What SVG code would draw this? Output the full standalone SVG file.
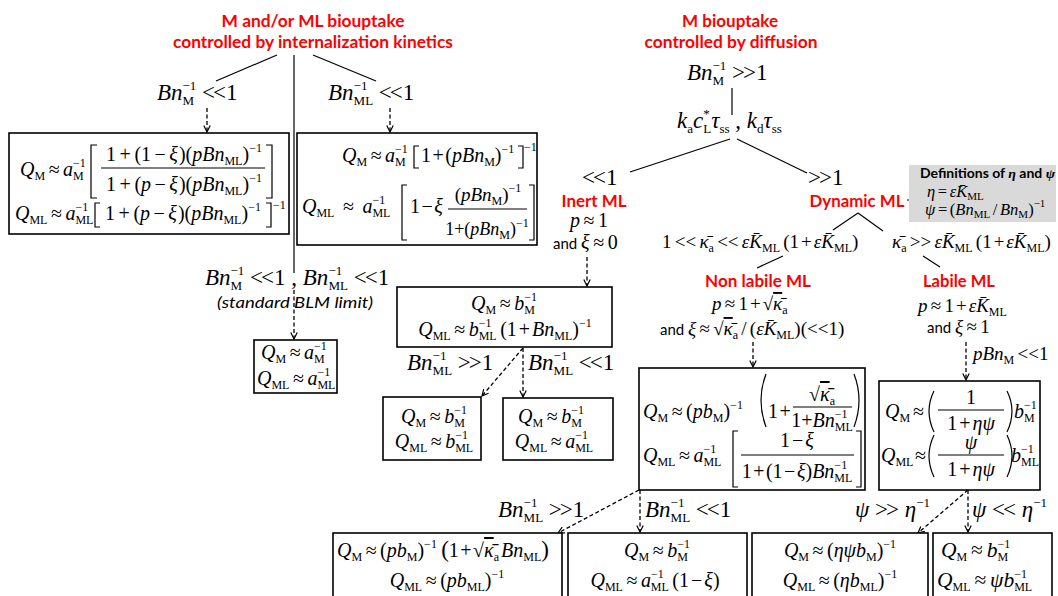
<svg xmlns="http://www.w3.org/2000/svg" width="1058" height="596" viewBox="0 0 1058 596">
<defs>
<style>
.m{font-family:"Liberation Serif","Times New Roman",serif;font-size:20px;fill:#000;word-spacing:-1.5px}
.b{font-size:23px;word-spacing:0}
.i{font-style:italic}
.s{font-size:12px}
.s2{font-size:13px}
.red{font-family:Lato,"Liberation Sans",sans-serif;font-weight:bold;font-size:17.5px;fill:#ff0000}
.sans{font-family:Lato,"Liberation Sans",sans-serif;font-size:15px;font-style:normal;font-weight:normal;word-spacing:0}
.box{fill:#fff;stroke:#000;stroke-width:1.6}
.ln{stroke:#000;stroke-width:1.2;fill:none}
.da{stroke:#000;stroke-width:1.3;fill:none;stroke-dasharray:4 2.5;marker-end:url(#ah)}
.br{stroke:#000;stroke-width:1.2;fill:none}
.ov{text-decoration:overline}
.tt{letter-spacing:-2px}
</style>
<marker id="ah" viewBox="0 0 10 10" refX="9" refY="5" markerWidth="8" markerHeight="8" markerUnits="userSpaceOnUse" orient="auto"><path d="M1,1 L9,5 L1,9" fill="none" stroke="#000" stroke-width="1.5"/></marker>
</defs>
<rect x="0" y="0" width="1058" height="596" fill="#fff"/>

<g id="connectors">
<line class="ln" x1="277" y1="55" x2="216" y2="81"/>
<line class="ln" x1="294" y1="55" x2="294" y2="273"/>
<line class="ln" x1="313" y1="55" x2="376" y2="81"/>
<line class="da" x1="207" y1="108" x2="207" y2="132"/>
<line class="da" x1="390" y1="108" x2="390" y2="132"/>
<line class="da" x1="294" y1="290" x2="294" y2="339"/>
<line class="ln" x1="732" y1="88" x2="732" y2="115"/>
<line class="ln" x1="730" y1="139" x2="630" y2="172"/>
<line class="ln" x1="737" y1="139" x2="807" y2="173"/>
<line class="da" x1="587" y1="257" x2="587" y2="286"/>
<line class="da" x1="523" y1="348" x2="482" y2="396"/>
<line class="da" x1="523" y1="348" x2="523" y2="397"/>
<line class="ln" x1="858" y1="213" x2="833" y2="230"/>
<line class="ln" x1="858" y1="213" x2="883" y2="231"/>
<line class="ln" x1="783" y1="256" x2="757" y2="268"/>
<line class="ln" x1="923" y1="256" x2="940" y2="267"/>
<line class="da" x1="753" y1="342" x2="753" y2="367"/>
<line class="da" x1="966" y1="342" x2="966" y2="380"/>
<line class="da" x1="639" y1="490" x2="558" y2="533"/>
<line class="da" x1="640" y1="490" x2="640" y2="532"/>
<line class="da" x1="968" y1="490" x2="918" y2="533"/>
<line class="da" x1="968" y1="490" x2="968" y2="532"/>
<path class="br" d="M907,200 H913 M920,188 Q916,188 916,192 V197 Q916,200 913,200 Q916,200 916,203 V209 Q916,213 920,213"/>
</g>

<g id="title-internalization">
<text class="red" x="313" y="27" text-anchor="middle" textLength="183" lengthAdjust="spacingAndGlyphs">M and/or ML biouptake</text>
<text class="red" x="313" y="48" text-anchor="middle" textLength="280" lengthAdjust="spacingAndGlyphs">controlled by internalization kinetics</text>
</g>

<g id="cond-BnM-small">
<text class="m b" x="157" y="100"><tspan class="i">Bn</tspan><tspan class="s2" dy="5">M</tspan><tspan class="s2" dx="-11.6" dy="-15">−1</tspan><tspan dy="10"> </tspan><tspan class="tt">&lt;&lt;</tspan><tspan dx="2">1</tspan></text>
</g>
<g id="cond-BnML-small">
<text class="m b" x="328" y="100"><tspan class="i">Bn</tspan><tspan class="s2" dy="-10">−1</tspan><tspan class="s2" dx="-13.8" dy="15">ML</tspan><tspan dy="-5"> </tspan><tspan class="tt">&lt;&lt;</tspan><tspan dx="2">1</tspan></text>
</g>

<g id="box-internal-1">
<rect class="box" x="9" y="133" width="280" height="101"/>
<text class="m" x="20" y="176"><tspan class="i">Q</tspan><tspan class="s" dy="4">M</tspan><tspan dy="-4"> ≈ </tspan><tspan class="i">a</tspan><tspan class="s" dy="4">M</tspan><tspan class="s" dx="-10.7" dy="-13">−1</tspan></text>
<path class="br" d="M97,145 H91 V198 H97 M266,145 H272 V198 H266"/>
<text class="m" x="184" y="161" text-anchor="middle">1<tspan dx="3.5">+</tspan><tspan dx="3.5">(1</tspan><tspan dx="3.5">−</tspan><tspan class="i" dx="3.5">ξ</tspan><tspan dx="1">)(</tspan><tspan class="i">pBn</tspan><tspan class="s" dy="4">ML</tspan><tspan dy="-4">)</tspan><tspan class="s" dy="-9">−1</tspan></text>
<line class="ln" x1="101" y1="168" x2="265" y2="168"/>
<text class="m" x="184" y="191" text-anchor="middle">1<tspan dx="3.5">+</tspan><tspan dx="3.5">(</tspan><tspan class="i">p</tspan><tspan dx="3.5">−</tspan><tspan class="i" dx="3.5">ξ</tspan><tspan dx="1">)(</tspan><tspan class="i">pBn</tspan><tspan class="s" dy="4">ML</tspan><tspan dy="-4">)</tspan><tspan class="s" dy="-9">−1</tspan></text>
<text class="m" x="15" y="220"><tspan class="i">Q</tspan><tspan class="s" dy="4">ML</tspan><tspan dy="-4"> ≈ </tspan><tspan class="i">a</tspan><tspan class="s" dy="-9">−1</tspan><tspan class="s" dx="-12.8" dy="13">ML</tspan></text>
<path class="br" d="M100,203 H95 V227 H100 M266,203 H271 V227 H266"/>
<text class="m" x="183" y="220" text-anchor="middle">1<tspan dx="3.5">+</tspan><tspan dx="3.5">(</tspan><tspan class="i">p</tspan><tspan dx="3.5">−</tspan><tspan class="i" dx="3.5">ξ</tspan><tspan dx="1">)(</tspan><tspan class="i">pBn</tspan><tspan class="s" dy="4">ML</tspan><tspan dy="-4">)</tspan><tspan class="s" dy="-9">−1</tspan></text>
<text class="m s" x="273" y="209">−1</text>
</g>

<g id="box-internal-2">
<rect class="box" x="297" y="133" width="240" height="112"/>
<text class="m" x="342" y="162"><tspan class="i">Q</tspan><tspan class="s" dy="4">M</tspan><tspan dy="-4"> ≈ </tspan><tspan class="i">a</tspan><tspan class="s" dy="4">M</tspan><tspan class="s" dx="-10.7" dy="-13">−1</tspan></text>
<path class="br" d="M419,146 H414 V168 H419 M518,146 H523 V168 H518"/>
<text class="m" x="421" y="162">1<tspan dx="1.5">+</tspan><tspan dx="1.5">(</tspan><tspan class="i">pBn</tspan><tspan class="s" dy="4">M</tspan><tspan dy="-4">)</tspan><tspan class="s" dy="-9">−1</tspan></text>
<text class="m s" x="524" y="151">−1</text>
<text class="m" x="302" y="213"><tspan class="i">Q</tspan><tspan class="s" dy="4">ML</tspan><tspan dy="-4" dx="5"> ≈ </tspan><tspan class="i" dx="5">a</tspan><tspan class="s" dy="-9">−1</tspan><tspan class="s" dx="-12.8" dy="13">ML</tspan></text>
<path class="br" d="M407,185 H402 V240 H407 M529,185 H534 V240 H529"/>
<text class="m" x="410" y="213">1<tspan dx="1.5">−</tspan><tspan class="i" dx="1.5">ξ</tspan></text>
<text class="m" x="488" y="201" text-anchor="middle" style="font-size:19px">(<tspan class="i">pBn</tspan><tspan class="s" dy="4">M</tspan><tspan dy="-4">)</tspan><tspan class="s" dy="-9">−1</tspan></text>
<line class="ln" x1="448" y1="209" x2="527" y2="209"/>
<text class="m" x="487" y="235" text-anchor="middle" style="font-size:18px">1+(<tspan class="i">pBn</tspan><tspan class="s" dy="4">M</tspan><tspan dy="-4">)</tspan><tspan class="s" dy="-8">−1</tspan></text>
</g>

<g id="cond-BLM">
<text class="m b" x="205" y="285"><tspan class="i">Bn</tspan><tspan class="s2" dy="5">M</tspan><tspan class="s2" dx="-11.6" dy="-15">−1</tspan><tspan dy="10"> </tspan><tspan class="tt">&lt;&lt;</tspan><tspan dx="2">1 , </tspan><tspan class="i">Bn</tspan><tspan class="s2" dy="-10">−1</tspan><tspan class="s2" dx="-13.8" dy="15">ML</tspan><tspan dy="-5"> </tspan><tspan class="tt">&lt;&lt;</tspan><tspan dx="2">1</tspan></text>
<text class="sans" x="295" y="308" text-anchor="middle" style="font-style:italic;font-size:16px" textLength="156" lengthAdjust="spacingAndGlyphs">(standard BLM limit)</text>
</g>

<g id="box-BLM">
<rect class="box" x="254" y="340" width="83" height="53"/>
<text class="m" x="261" y="359"><tspan class="i">Q</tspan><tspan class="s" dy="4">M</tspan><tspan dy="-4"> ≈ </tspan><tspan class="i">a</tspan><tspan class="s" dy="4">M</tspan><tspan class="s" dx="-10.7" dy="-13">−1</tspan></text>
<text class="m" x="257" y="385"><tspan class="i">Q</tspan><tspan class="s" dy="4">ML</tspan><tspan dy="-4"> ≈ </tspan><tspan class="i">a</tspan><tspan class="s" dy="-9">−1</tspan><tspan class="s" dx="-12.8" dy="13">ML</tspan></text>
</g>

<g id="title-diffusion">
<text class="red" x="730" y="27" text-anchor="middle" textLength="96" lengthAdjust="spacingAndGlyphs">M biouptake</text>
<text class="red" x="731" y="48" text-anchor="middle" textLength="173" lengthAdjust="spacingAndGlyphs">controlled by diffusion</text>
</g>

<g id="cond-BnM-large">
<text class="m b" x="687" y="80"><tspan class="i">Bn</tspan><tspan class="s2" dy="5">M</tspan><tspan class="s2" dx="-11.6" dy="-15">−1</tspan><tspan dy="10"> </tspan><tspan class="tt">&gt;&gt;</tspan><tspan dx="2">1</tspan></text>
</g>

<g id="kinetic-params">
<text class="m b" x="677" y="128"><tspan class="i">k</tspan><tspan class="s2" dy="5">a</tspan><tspan class="i" dy="-5">c</tspan><tspan class="s2" dy="-10">*</tspan><tspan class="s2" dx="-6.5" dy="15">L</tspan><tspan class="i" dy="-5">τ</tspan><tspan class="s2" dy="5">ss</tspan><tspan dy="-5"> , </tspan><tspan class="i">k</tspan><tspan class="s2" dy="5">d</tspan><tspan class="i" dy="-5">τ</tspan><tspan class="s2" dy="5">ss</tspan></text>
</g>

<g id="inert-ML">
<text class="m b" x="582" y="185"><tspan class="tt">&lt;&lt;</tspan><tspan dx="2">1</tspan></text>
<text class="red" x="594" y="207" text-anchor="middle" textLength="65" lengthAdjust="spacingAndGlyphs">Inert ML</text>
<text class="m" x="570" y="227"><tspan class="i">p</tspan> ≈ 1</text>
<text class="m" x="553" y="249"><tspan class="sans">and </tspan><tspan class="i">ξ</tspan> ≈ 0</text>
</g>

<g id="box-inert">
<rect class="box" x="397" y="287" width="215" height="60"/>
<text class="m" x="504" y="310" text-anchor="middle"><tspan class="i">Q</tspan><tspan class="s" dy="4">M</tspan><tspan dy="-4"> ≈ </tspan><tspan class="i">b</tspan><tspan class="s" dy="4">M</tspan><tspan class="s" dx="-10.7" dy="-13">−1</tspan></text>
<text class="m" x="505" y="336" text-anchor="middle"><tspan class="i">Q</tspan><tspan class="s" dy="4">ML</tspan><tspan dy="-4"> ≈ </tspan><tspan class="i">b</tspan><tspan class="s" dy="-9">−1</tspan><tspan class="s" dx="-12.8" dy="13">ML</tspan><tspan dy="-4"> (1</tspan><tspan dx="2">+</tspan><tspan dx="2" class="i">Bn</tspan><tspan class="s" dy="4">ML</tspan><tspan dy="-4">)</tspan><tspan class="s" dy="-9">−1</tspan></text>
</g>

<g id="cond-inert-split">
<text class="m b" x="407" y="370"><tspan class="i">Bn</tspan><tspan class="s2" dy="-10">−1</tspan><tspan class="s2" dx="-13.8" dy="15">ML</tspan><tspan dy="-5"> </tspan><tspan class="tt">&gt;&gt;</tspan><tspan dx="2">1</tspan></text>
<text class="m b" x="528" y="370"><tspan class="i">Bn</tspan><tspan class="s2" dy="-10">−1</tspan><tspan class="s2" dx="-13.8" dy="15">ML</tspan><tspan dy="-5"> </tspan><tspan class="tt">&lt;&lt;</tspan><tspan dx="2">1</tspan></text>
</g>

<g id="box-inert-a">
<rect class="box" x="383" y="397" width="98" height="63"/>
<text class="m" x="434" y="423" text-anchor="middle"><tspan class="i">Q</tspan><tspan class="s" dy="4">M</tspan><tspan dy="-4"> ≈ </tspan><tspan class="i">b</tspan><tspan class="s" dy="4">M</tspan><tspan class="s" dx="-10.7" dy="-13">−1</tspan></text>
<text class="m" x="434" y="448" text-anchor="middle"><tspan class="i">Q</tspan><tspan class="s" dy="4">ML</tspan><tspan dy="-4"> ≈ </tspan><tspan class="i">b</tspan><tspan class="s" dy="-9">−1</tspan><tspan class="s" dx="-12.8" dy="13">ML</tspan></text>
</g>
<g id="box-inert-b">
<rect class="box" x="503" y="398" width="110" height="62"/>
<text class="m" x="551" y="423" text-anchor="middle"><tspan class="i">Q</tspan><tspan class="s" dy="4">M</tspan><tspan dy="-4"> ≈ </tspan><tspan class="i">b</tspan><tspan class="s" dy="4">M</tspan><tspan class="s" dx="-10.7" dy="-13">−1</tspan></text>
<text class="m" x="554" y="448" text-anchor="middle"><tspan class="i">Q</tspan><tspan class="s" dy="4">ML</tspan><tspan dy="-4"> ≈ </tspan><tspan class="i">a</tspan><tspan class="s" dy="-9">−1</tspan><tspan class="s" dx="-12.8" dy="13">ML</tspan></text>
</g>

<g id="dynamic-ML">
<text class="m b" x="808" y="185"><tspan class="tt">&gt;&gt;</tspan><tspan dx="2">1</tspan></text>
<text class="red" x="857" y="207" text-anchor="middle" textLength="95" lengthAdjust="spacingAndGlyphs">Dynamic ML</text>
</g>

<g id="definitions">
<rect x="909" y="165" width="147" height="57" fill="#d9d9d9"/>
<text class="sans" x="920" y="178" style="font-weight:bold;font-size:13px" textLength="135" lengthAdjust="spacingAndGlyphs">Definitions of <tspan style="font-family:'Liberation Serif',serif;font-style:italic">η</tspan> and <tspan style="font-family:'Liberation Serif',serif;font-style:italic">ψ</tspan></text>
<text class="m" x="927" y="197" style="font-size:16.5px"><tspan class="i">η</tspan> = <tspan class="i">εK&#x304;</tspan><tspan class="s" dy="3" style="font-size:11px">ML</tspan></text>
<text class="m" x="925" y="215" style="font-size:16.5px"><tspan class="i">ψ</tspan> = (<tspan class="i">Bn</tspan><tspan class="s" dy="3" style="font-size:11px">ML</tspan><tspan dy="-3"> / </tspan><tspan class="i">Bn</tspan><tspan class="s" dy="3" style="font-size:11px">M</tspan><tspan dy="-3">)</tspan><tspan class="s" dy="-8" style="font-size:11px">−1</tspan></text>
</g>

<g id="cond-nonlabile">
<text class="m" x="662" y="248" style="font-size:19px">1 &lt;&lt; <tspan class="i">κ&#x304;</tspan><tspan class="s" dy="4">a</tspan><tspan dy="-4"> &lt;&lt; </tspan><tspan class="i">εK&#x304;</tspan><tspan class="s" dy="4">ML</tspan><tspan dy="-4"> (1</tspan><tspan dx="2">+</tspan><tspan class="i" dx="2">εK&#x304;</tspan><tspan class="s" dy="4">ML</tspan><tspan dy="-4">)</tspan></text>
</g>
<g id="cond-labile">
<text class="m" x="892" y="248" style="font-size:19px"><tspan class="i">κ&#x304;</tspan><tspan class="s" dy="4">a</tspan><tspan dy="-4"> &gt;&gt; </tspan><tspan class="i">εK&#x304;</tspan><tspan class="s" dy="4">ML</tspan><tspan dy="-4"> (1</tspan><tspan dx="2">+</tspan><tspan class="i" dx="2">εK&#x304;</tspan><tspan class="s" dy="4">ML</tspan><tspan dy="-4">)</tspan></text>
</g>

<g id="nonlabile-ML">
<text class="red" x="758" y="287" text-anchor="middle" textLength="106" lengthAdjust="spacingAndGlyphs">Non labile ML</text>
<text class="m" x="712" y="310" style="font-size:19px"><tspan class="i">p</tspan> ≈ 1<tspan dx="2">+</tspan><tspan dx="2">√</tspan><tspan class="i ov">κ&#x304;</tspan><tspan class="s" dy="4">a</tspan></text>
<text class="m" x="660" y="335" style="font-size:19px"><tspan class="sans">and </tspan><tspan class="i">ξ</tspan> ≈ √<tspan class="i ov">κ&#x304;</tspan><tspan class="s" dy="4">a</tspan><tspan dy="-4"> / (</tspan><tspan class="i">εK&#x304;</tspan><tspan class="s" dy="4">ML</tspan><tspan dy="-4">)(&lt;&lt;1)</tspan></text>
</g>

<g id="labile-ML">
<text class="red" x="959" y="287" text-anchor="middle" textLength="72" lengthAdjust="spacingAndGlyphs">Labile ML</text>
<text class="m" x="918" y="312" style="font-size:19px"><tspan class="i">p</tspan> ≈ 1<tspan dx="2">+</tspan><tspan class="i" dx="2">εK&#x304;</tspan><tspan class="s" dy="4">ML</tspan></text>
<text class="m" x="927" y="333" style="font-size:19px"><tspan class="sans">and </tspan><tspan class="i">ξ</tspan> ≈ 1</text>
<text class="m" x="973" y="360" style="font-size:19px"><tspan class="i">pBn</tspan><tspan class="s" dy="4">M</tspan><tspan dy="-4"> &lt;&lt;1</tspan></text>
</g>

<g id="box-nonlabile">
<rect class="box" x="639" y="368" width="226" height="122"/>
<text class="m" x="643" y="418"><tspan class="i">Q</tspan><tspan class="s" dy="4">M</tspan><tspan dy="-4"> ≈ (</tspan><tspan class="i">pb</tspan><tspan class="s" dy="4">M</tspan><tspan dy="-4">)</tspan><tspan class="s" dy="-9">−1</tspan></text>
<path class="br" d="M766,374 Q756,400 766,427 M854,374 Q864,400 854,427"/>
<text class="m" x="768" y="418">1<tspan dx="1.5">+</tspan></text>
<text class="m" x="822" y="401" text-anchor="middle">√<tspan class="i ov">κ&#x304;</tspan><tspan class="s" dy="4">a</tspan></text>
<line class="ln" x1="793" y1="407" x2="852" y2="407"/>
<text class="m" x="822" y="427" text-anchor="middle">1+<tspan class="i">Bn</tspan><tspan class="s" dy="-9">−1</tspan><tspan class="s" dx="-12.8" dy="13">ML</tspan></text>
<text class="m" x="643" y="462"><tspan class="i">Q</tspan><tspan class="s" dy="4">ML</tspan><tspan dy="-4"> ≈ </tspan><tspan class="i">a</tspan><tspan class="s" dy="-9">−1</tspan><tspan class="s" dx="-12.8" dy="13">ML</tspan></text>
<path class="br" d="M738,431 H733 V487 H738 M856,431 H861 V487 H856"/>
<text class="m" x="797" y="447" text-anchor="middle">1<tspan dx="2">−</tspan><tspan class="i" dx="2">ξ</tspan></text>
<line class="ln" x1="741" y1="455" x2="854" y2="455"/>
<text class="m" x="797" y="478" text-anchor="middle">1<tspan dx="1.5">+</tspan><tspan dx="1.5">(1</tspan><tspan dx="1.5">−</tspan><tspan class="i" dx="1.5">ξ</tspan>)<tspan class="i">Bn</tspan><tspan class="s" dy="-9">−1</tspan><tspan class="s" dx="-12.8" dy="13">ML</tspan></text>
</g>

<g id="box-labile">
<rect class="box" x="879" y="381" width="161" height="109"/>
<text class="m" x="885" y="418"><tspan class="i">Q</tspan><tspan class="s" dy="4">M</tspan></text>
<text class="m" x="913" y="418">≈</text>
<path class="br" d="M934,391 Q924,411 934,432 M1007,391 Q1017,411 1007,432"/>
<text class="m" x="971" y="404" text-anchor="middle">1</text>
<line class="ln" x1="938" y1="410" x2="1004" y2="410"/>
<text class="m" x="971" y="430" text-anchor="middle">1<tspan dx="2">+</tspan><tspan class="i" dx="2">ηψ</tspan></text>
<text class="m" x="1014" y="418"><tspan class="i">b</tspan><tspan class="s" dy="4">M</tspan><tspan class="s" dx="-10.7" dy="-13">−1</tspan></text>
<text class="m" x="881" y="462"><tspan class="i">Q</tspan><tspan class="s" dy="4">ML</tspan></text>
<text class="m" x="915" y="462">≈</text>
<path class="br" d="M934,435 Q924,456 934,477 M1007,435 Q1017,456 1007,477"/>
<text class="m i" x="971" y="449" text-anchor="middle">ψ</text>
<line class="ln" x1="938" y1="455" x2="1004" y2="455"/>
<text class="m" x="971" y="476" text-anchor="middle">1<tspan dx="2">+</tspan><tspan class="i" dx="2">ηψ</tspan></text>
<text class="m" x="1011" y="462"><tspan class="i">b</tspan><tspan class="s" dy="-9">−1</tspan><tspan class="s" dx="-12.8" dy="13">ML</tspan></text>
</g>

<g id="cond-bottom">
<text class="m b" x="498" y="517"><tspan class="i">Bn</tspan><tspan class="s2" dy="-10">−1</tspan><tspan class="s2" dx="-13.8" dy="15">ML</tspan><tspan dy="-5"> </tspan><tspan class="tt">&gt;&gt;</tspan><tspan dx="2">1</tspan></text>
<text class="m b" x="645" y="517"><tspan class="i">Bn</tspan><tspan class="s2" dy="-10">−1</tspan><tspan class="s2" dx="-13.8" dy="15">ML</tspan><tspan dy="-5"> </tspan><tspan class="tt">&lt;&lt;</tspan><tspan dx="2">1</tspan></text>
<text class="m b" x="855" y="517"><tspan class="i">ψ</tspan> <tspan class="tt">&gt;&gt;</tspan><tspan dx="2"> </tspan><tspan class="i">η</tspan><tspan class="s2" dy="-10">−1</tspan></text>
<text class="m b" x="972" y="517"><tspan class="i">ψ</tspan> <tspan class="tt">&lt;&lt;</tspan><tspan dx="2"> </tspan><tspan class="i">η</tspan><tspan class="s2" dy="-10">−1</tspan></text>
</g>

<g id="box-bottom-1">
<rect class="box" x="333" y="533" width="229" height="80"/>
<text class="m" x="337" y="557"><tspan class="i">Q</tspan><tspan class="s" dy="4">M</tspan><tspan dy="-4"> ≈ (</tspan><tspan class="i">pb</tspan><tspan class="s" dy="4">M</tspan><tspan dy="-4">)</tspan><tspan class="s" dy="-9">−1</tspan><tspan dy="9" style="font-size:23px"> (</tspan>1<tspan dx="1.5">+</tspan><tspan dx="1.5">√</tspan><tspan class="i ov">κ&#x304;</tspan><tspan class="s" dy="4">a</tspan><tspan class="i" dx="2" dy="-4">Bn</tspan><tspan class="s" dy="4">ML</tspan><tspan dy="-4" style="font-size:23px">)</tspan></text>
<text class="m" x="447" y="587" text-anchor="middle"><tspan class="i">Q</tspan><tspan class="s" dy="4">ML</tspan><tspan dy="-4"> ≈ (</tspan><tspan class="i">pb</tspan><tspan class="s" dy="4">ML</tspan><tspan dy="-4">)</tspan><tspan class="s" dy="-9">−1</tspan></text>
</g>
<g id="box-bottom-2">
<rect class="box" x="568" y="533" width="179" height="80"/>
<text class="m" x="657" y="557" text-anchor="middle"><tspan class="i">Q</tspan><tspan class="s" dy="4">M</tspan><tspan dy="-4"> ≈ </tspan><tspan class="i">b</tspan><tspan class="s" dy="4">M</tspan><tspan class="s" dx="-10.7" dy="-13">−1</tspan></text>
<text class="m" x="655" y="587" text-anchor="middle"><tspan class="i">Q</tspan><tspan class="s" dy="4">ML</tspan><tspan dy="-4"> ≈ </tspan><tspan class="i">a</tspan><tspan class="s" dy="-9">−1</tspan><tspan class="s" dx="-12.8" dy="13">ML</tspan><tspan dy="-4"> (1</tspan><tspan dx="2">−</tspan><tspan class="i" dx="2">ξ</tspan>)</text>
</g>
<g id="box-bottom-3">
<rect class="box" x="752" y="533" width="176" height="80"/>
<text class="m" x="840" y="557" text-anchor="middle"><tspan class="i">Q</tspan><tspan class="s" dy="4">M</tspan><tspan dy="-4"> ≈ (</tspan><tspan class="i">ηψb</tspan><tspan class="s" dy="4">M</tspan><tspan dy="-4">)</tspan><tspan class="s" dy="-9">−1</tspan></text>
<text class="m" x="840" y="587" text-anchor="middle"><tspan class="i">Q</tspan><tspan class="s" dy="4">ML</tspan><tspan dy="-4"> ≈ (</tspan><tspan class="i">ηb</tspan><tspan class="s" dy="4">ML</tspan><tspan dy="-4">)</tspan><tspan class="s" dy="-9">−1</tspan></text>
</g>
<g id="box-bottom-4">
<rect class="box" x="933" y="533" width="119" height="80"/>
<text class="m" x="941" y="557" style="font-size:21.5px"><tspan class="i">Q</tspan><tspan class="s" dy="4">M</tspan><tspan dy="-4"> ≈ </tspan><tspan class="i">b</tspan><tspan class="s" dy="4">M</tspan><tspan class="s" dx="-10.7" dy="-13">−1</tspan></text>
<text class="m" x="937" y="587" style="font-size:21.5px"><tspan class="i">Q</tspan><tspan class="s" dy="4">ML</tspan><tspan dy="-4"> ≈ </tspan><tspan class="i">ψb</tspan><tspan class="s" dy="-9">−1</tspan><tspan class="s" dx="-12.8" dy="13">ML</tspan></text>
</g>
</svg>
